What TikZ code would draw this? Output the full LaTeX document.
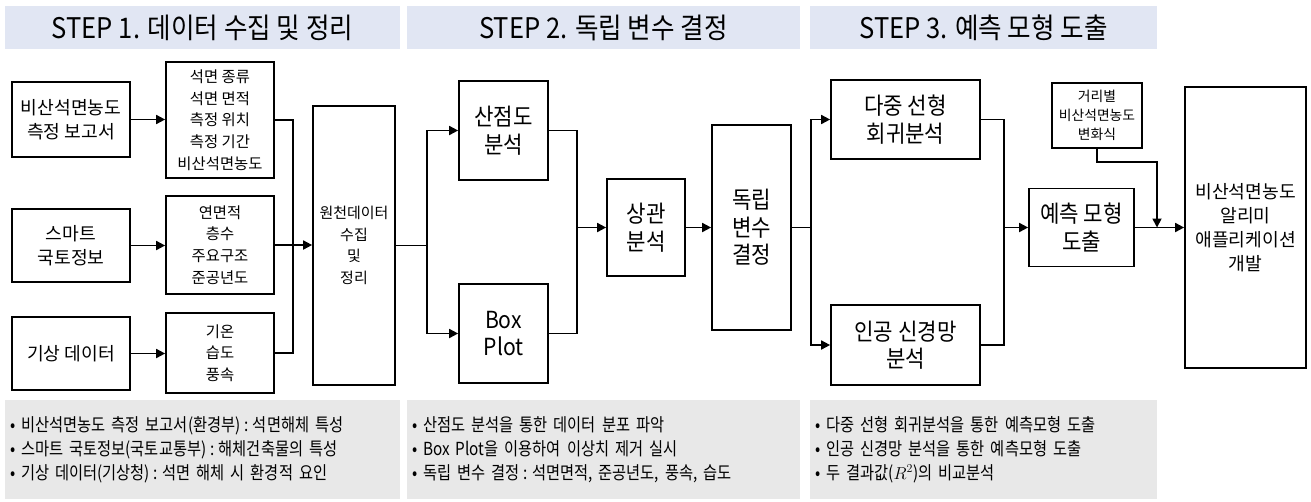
\documentclass[tikz,border=0pt]{standalone}
\usepackage{fontspec}
\setmainfont{Noto Sans CJK KR}
\newfontfamily\krc[FakeStretch=0.9]{Noto Sans CJK KR}
\newfontfamily\krn[FakeStretch=0.85]{Noto Sans CJK KR}
\usetikzlibrary{arrows.meta}
\definecolor{hdr}{RGB}{225,230,243}
\definecolor{note}{RGB}{232,232,232}
\newcommand{\cln}{\hspace{0.2em}:\hspace{0.25em}}
\begin{document}
\begin{tikzpicture}[x=1pt,y=-1pt,
  box/.style={draw, line width=1.7pt, inner sep=0pt, align=center},
  fa/.style={font=\fontsize{18.2}{24}\selectfont},
  fb/.style={font=\fontsize{15.4}{21.7}\selectfont},
  fcc/.style={font=\fontsize{15}{21.7}\selectfont},
  fc/.style={font=\krc\fontsize{23.5}{27.5}\selectfont},
  fk/.style={font=\fontsize{13.8}{19}\selectfont},
  ln/.style={line width=1.7pt},
  arr/.style={line width=1.7pt, -{Triangle[length=9pt,width=9pt]}},
  hdrbox/.style={fill=hdr, inner sep=0pt, minimum height=43pt, font=\krc\fontsize{28.4}{30}\selectfont},
  notebox/.style={fill=note, inner xsep=5pt, inner ysep=0pt, minimum height=99pt, align=left, font=\krn\fontsize{18}{24}\selectfont}
]
\useasboundingbox (0,0) rectangle (1311,501);

% headers
\node[hdrbox, minimum width=395pt] (h1) at (202.5,27.5) {STEP 1. 데이터 수집 및 정리};
\node[hdrbox, minimum width=393pt] (h2) at (603.5,27.5) {STEP 2. 독립 변수 결정};
\node[hdrbox, minimum width=347pt] (h3) at (983.5,27.5) {STEP 3. 예측 모형 도출};

% notes
\node[notebox, text width=385pt] (n1) at (202.5,449.5) {• 비산석면농도 측정 보고서(환경부)\cln 석면해체 특성\\• 스마트 국토정보(국토교통부)\cln 해체건축물의 특성\\• 기상 데이터(기상청)\cln 석면 해체 시 환경적 요인};
\node[notebox, text width=383pt] (n2) at (603.5,449.5) {• 산점도 분석을 통한 데이터 분포 파악\\• Box Plot을 이용하여 이상치 제거 실시\\• 독립 변수 결정\cln 석면면적, 준공년도, 풍속, 습도};
\node[notebox, text width=337pt] (n3) at (983.5,449.5) {• 다중 선형 회귀분석을 통한 예측모형 도출\\• 인공 신경망 분석을 통한 예측모형 도출\\• 두 결과값($R^2$)의 비교분석};

% step 1 boxes
\node[box, fa, minimum width=118pt, minimum height=75pt] (A1) at (71,119.5) {비산석면농도\\측정 보고서};
\node[box, fa, minimum width=118pt, minimum height=73pt] (A2) at (71,245.5) {스마트\\국토정보};
\node[box, fa, minimum width=118pt, minimum height=73pt] (A3) at (71,353.5) {기상 데이터};
\node[box, fb, minimum width=108pt, minimum height=116pt] (B1) at (220,120) {석면 종류\\석면 면적\\측정 위치\\측정 기간\\비산석면농도};
\node[box, fb, minimum width=108pt, minimum height=98pt] (B2) at (220,245) {연면적\\층수\\주요구조\\준공년도};
\node[box, fb, minimum width=108pt, minimum height=80pt] (B3) at (220,353) {기온\\습도\\풍속};
\node[box, fcc, minimum width=82pt, minimum height=279pt] (C) at (354,245.5) {원천데이터\\수집\\및\\정리};

% step 2 boxes
\node[box, fc, minimum width=89pt, minimum height=99pt] (D1) at (503.5,130.5) {산점도\\분석};
\node[box, fc, minimum width=89pt, minimum height=99pt] (D2) at (503.5,333.5) {Box\\Plot};
\node[box, fc, minimum width=78pt, minimum height=97pt] (E) at (646,227.5) {상관\\분석};
\node[box, fc, minimum width=79pt, minimum height=205pt] (F) at (751.5,227.5) {독립\\변수\\결정};

% step 3 boxes
\node[box, fc, minimum width=149pt, minimum height=79pt] (G1) at (905.5,119.5) {다중 선형\\회귀분석};
\node[box, fc, minimum width=149pt, minimum height=80pt] (G2) at (905.5,345) {인공 신경망\\분석};
\node[box, fc, minimum width=105pt, minimum height=78pt] (H) at (1081.5,227.5) {예측 모형\\도출};
\node[box, fk, minimum width=90pt, minimum height=65pt] (K) at (1097,115.5) {거리별\\비산석면농도\\변화식};
\node[box, fa, minimum width=121pt, minimum height=281pt] (I) at (1245.5,227.5) {비산석면농도\\알리미\\애플리케이션\\개발};

% junction coordinates
\coordinate (j1) at (293,245);
\coordinate (s1) at (427,245.5);
\coordinate (m1) at (577,227.5);
\coordinate (s2) at (811,227.5);
\coordinate (m2) at (1004,227.5);
\coordinate (kk) at (1157,162);
\coordinate (kj) at (1157,227.5);

% step 1 connectors
\draw[arr] (A1.east) -- (A1.east -| B1.west);
\draw[arr] (A2.east) -- (A2.east -| B2.west);
\draw[arr] (A3.east) -- (A3.east -| B3.west);
\draw[ln] (B1.east) -| (j1);
\draw[ln] (B3.east) -| (j1);
\draw[arr] (B2.east) -- (B2.east -| C.west);

% step 2 connectors
\draw[ln] (C.east) -- (s1);
\draw[arr] (s1) |- (D1.west);
\draw[arr] (s1) |- (D2.west);
\draw[ln] (D1.east) -| (m1);
\draw[ln] (D2.east) -| (m1);
\draw[arr] (m1) -- (E.west);
\draw[arr] (E.east) -- (F.west);

% step 3 connectors
\draw[ln] (F.east) -- (s2);
\draw[arr] (s2) |- (G1.west);
\draw[arr] (s2) |- (G2.west);
\draw[ln] (G1.east) -| (m2);
\draw[ln] (G2.east) -| (m2);
\draw[arr] (m2) -- (H.west);
\draw[arr] (H.east) -- (I.west);
\draw[arr] (K.south) |- (kk) -- (kj);
\end{tikzpicture}
\end{document}
